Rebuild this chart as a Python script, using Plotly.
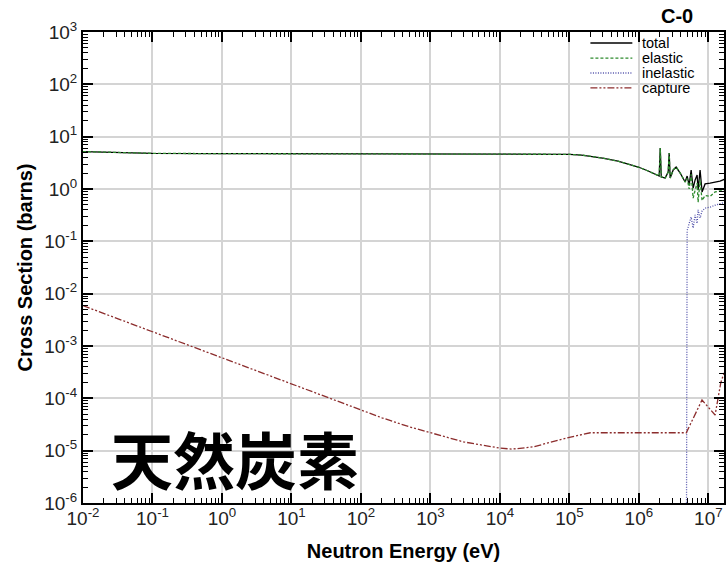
import plotly.graph_objects as go

# ---------------- data ----------------
energy_total = [1e-2, 3e-2, 1e-1, 1e0, 1e1, 1e2, 1e3, 1e4, 3e4, 1e5, 1.5e5, 3e5, 5e5,
                9.8e5, 1.36e6, 1.78e6, 1.96e6, 2.03e6, 2.10e6, 2.39e6, 2.64e6, 2.73e6,
                2.82e6, 3.12e6, 3.44e6, 3.93e6, 4.34e6, 4.63e6, 4.95e6, 5.29e6, 5.65e6,
                6.04e6, 6.45e6, 6.89e6, 7.12e6, 7.60e6, 8.12e6, 8.97e6, 1.06e7, 1.25e7,
                1.47e7, 1.74e7]
sigma_total = [5.2, 4.95, 4.8, 4.74, 4.73, 4.72, 4.72, 4.7, 4.68, 4.6, 4.45, 3.9, 3.4,
               2.63, 2.21, 1.85, 1.77, 6.08, 1.70, 1.62, 2.11, 4.88,
               1.62, 2.31, 2.63, 2.02, 1.62, 1.36, 1.77, 1.19, 2.31,
               1.04, 1.49, 1.85, 0.96, 2.31, 0.88, 1.25, 1.30, 1.36,
               1.42, 1.55]
sigma_elastic = [5.2, 4.95, 4.8, 4.74, 4.73, 4.72, 4.72, 4.7, 4.68, 4.6, 4.45, 3.9, 3.4,
                 2.63, 2.21, 1.85, 1.77, 6.08, 1.70, 1.62, 2.11, 4.88,
                 1.62, 2.31, 2.63, 2.02, 1.62, 1.36, 1.6, 1.0, 1.9,
                 0.67, 0.95, 1.3, 0.56, 1.5, 0.6, 0.75, 0.72, 0.88,
                 0.92, 0.96]

energy_inel = [4.81e6, 4.83e6, 4.87e6, 4.95e6, 5.29e6, 5.65e6, 6.04e6, 6.45e6, 6.89e6,
               7.12e6, 7.60e6, 8.12e6, 8.97e6, 1.06e7, 1.25e7, 1.47e7, 1.74e7]
sigma_inel = [1e-8, 5e-3, 6e-2, 0.16, 0.22, 0.29, 0.18, 0.32, 0.22,
              0.40, 0.28, 0.38, 0.43, 0.45, 0.49, 0.53, 0.56]

energy_capt = [1e-2, 1e-1, 1e0, 1e1, 1e2, 2e2, 5e2, 1e3, 3e3, 1e4, 1.5e4, 3e4, 1e5, 2e5,
               4.81e6, 8.1e6, 1.25e7, 1.51e7, 1.74e7]
sigma_capt = [5.9e-3, 1.87e-3, 5.9e-4, 1.87e-4, 5.9e-5, 4.25e-5, 2.85e-5, 2.2e-5, 1.47e-5,
              1.12e-5, 1.07e-5, 1.18e-5, 1.8e-5, 2.2e-5,
              2.2e-5, 9.3e-5, 4.8e-5, 2.0e-4, 3.5e-4]

series_names = ["total", "elastic", "inelastic", "capture"]
series_colors = ["#000000", "#2e8b2e", "#5050aa", "#8c2d2d"]
series_dash = ["solid", "3px,2px", "1px,1.5px", "7px,2px,2px,2px,2px,2px"]

x_decades = [-2, -1, 0, 1, 2, 3, 4, 5, 6, 7]
y_decades = [-6, -5, -4, -3, -2, -1, 0, 1, 2, 3]

FONT = "Liberation Sans, Arial, sans-serif"

fig = go.Figure()
xs = [energy_total, energy_total, energy_inel, energy_capt]
ys = [sigma_total, sigma_elastic, sigma_inel, sigma_capt]
for name, x, y, c, d in zip(series_names, xs, ys, series_colors, series_dash):
    fig.add_trace(go.Scatter(x=x, y=y, mode="lines", name=name,
                             line=dict(color=c, width=1.3, dash=d),
                             showlegend=False))

# manual legend (compact, as in the reference)
leg_y = [0.9766, 0.9445, 0.9130, 0.8815]
for name, c, d, yy in zip(series_names, series_colors, series_dash, leg_y):
    fig.add_shape(type="line", xref="paper", yref="paper", x0=0.7916, x1=0.857,
                  y0=yy, y1=yy, line=dict(color=c, width=1.3, dash=d))
    fig.add_annotation(xref="paper", yref="paper", x=0.869, y=yy, text=name,
                       showarrow=False, xanchor="left", yanchor="middle",
                       font=dict(family=FONT, size=14.5, color="black"))

# title
fig.add_annotation(xref="paper", yref="paper", x=0.954, y=1.033, text="<b>C-0</b>",
                   showarrow=False, xanchor="right", yanchor="middle",
                   font=dict(family=FONT, size=20, color="black"))

# big label
fig.add_annotation(xref="paper", yref="paper", x=0.2364, y=0.0955, text="<b>天然炭素</b>",
                   showarrow=False, xanchor="center", yanchor="middle",
                   font=dict(family="Noto Sans CJK JP", size=62, color="black"))

axis_common = dict(
    type="log", showline=True, linecolor="black", linewidth=2, mirror="allticks",
    ticks="inside", ticklen=10, tickwidth=1.5, tickcolor="black",
    showgrid=True, gridcolor="#d4d4d4", gridwidth=1.5, zeroline=False,
    tickfont=dict(family=FONT, size=19, color="#222222"),
    minor=dict(ticks="inside", ticklen=5, tickwidth=1, tickcolor="black",
               dtick="D1", showgrid=False),
)

fig.update_xaxes(
    range=[-2, 7.225],
    tickvals=[10.0 ** k for k in x_decades],
    ticktext=["10<sup>%d</sup>" % k for k in x_decades],
    ticklabelstandoff=-3,
    title=dict(text="<b>Neutron Energy (eV)</b>", standoff=16,
               font=dict(family=FONT, size=20, color="black")),
    **axis_common,
)
fig.update_yaxes(
    range=[-6, 3],
    tickvals=[10.0 ** k for k in y_decades],
    ticktext=["10<sup>%d</sup>" % k for k in y_decades],
    title=dict(text="<b>Cross Section (barns)</b>", standoff=6,
               font=dict(family=FONT, size=20, color="black")),
    **axis_common,
)

fig.update_layout(
    width=727, height=567,
    margin=dict(l=83, r=1, t=32, b=64),
    plot_bgcolor="white", paper_bgcolor="white",
    showlegend=False,
)

fig.write_html("out.html")
